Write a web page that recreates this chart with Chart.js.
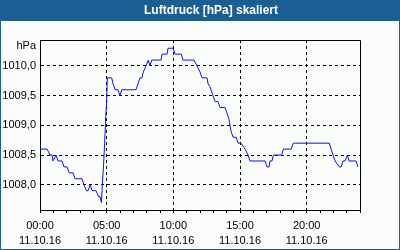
<!DOCTYPE html>
<html lang="de">

<head>
    <script src="https://cdn.jsdelivr.net/npm/chart.js"></script>
    <meta charset="UTF-8">
    <title>Luftdruck</title>
    <style>
        body {
            margin: 0;
            background: #fafcfa;
        }

        .box {
            width: 400px;
            height: 250px;
        }
    </style>
</head>

<body>
    <div class="box"><canvas id="druck"></canvas></div>

    <script>
        const titleText = 'Luftdruck [hPa] skaliert';
        const unitLabel = 'hPa';
        const dateLabel = '11.10.16';

        // Stunden seit 00:00 und Luftdruck in hPa
        const hours = [0, 0.53, 0.75, 0.9, 0.98, 1.2, 1.35, 1.65, 1.8, 2.03, 2.18, 2.48, 2.63, 3.15, 3.3, 3.47, 3.6, 3.77, 3.9, 4.1, 4.2, 4.39, 4.5, 4.61, 4.67, 4.76, 4.85, 4.93, 5.0, 5.05, 5.38, 5.48, 5.63, 5.85, 6.0, 6.13, 7.2, 7.35, 7.5, 7.65, 7.75, 7.95, 8.12, 8.25, 8.38, 9.08, 9.15, 9.53, 9.6, 9.98, 10.13, 10.6, 10.72, 11.55, 11.78, 12.0, 12.15, 12.53, 12.6, 12.75, 12.98, 13.13, 13.35, 13.5, 13.88, 14.03, 14.18, 14.25, 14.33, 14.48, 14.7, 14.85, 15.08, 15.38, 15.45, 15.6, 15.75, 16.88, 17.03, 17.18, 17.25, 17.4, 17.5, 18.13, 18.25, 18.83, 19.0, 21.7, 21.83, 21.98, 22.13, 22.45, 22.58, 22.73, 22.88, 23.05, 23.18, 23.7, 23.85];
        const pressure = [1008.6, 1008.6, 1008.5, 1008.5, 1008.4, 1008.5, 1008.4, 1008.4, 1008.3, 1008.3, 1008.2, 1008.2, 1008.1, 1008.1, 1008.0, 1007.9, 1007.9, 1008.0, 1007.9, 1007.9, 1007.9, 1007.8, 1007.8, 1007.7, 1008.0, 1008.3, 1008.7, 1009.15, 1009.4, 1009.8, 1009.8, 1009.7, 1009.6, 1009.6, 1009.5, 1009.6, 1009.6, 1009.7, 1009.8, 1009.8, 1009.9, 1010.0, 1010.1, 1010.0, 1010.1, 1010.1, 1010.2, 1010.2, 1010.3, 1010.3, 1010.2, 1010.2, 1010.1, 1010.1, 1010.0, 1009.9, 1009.8, 1009.8, 1009.7, 1009.65, 1009.5, 1009.4, 1009.4, 1009.3, 1009.3, 1009.2, 1009.1, 1009.0, 1008.9, 1008.8, 1008.8, 1008.7, 1008.7, 1008.6, 1008.6, 1008.5, 1008.4, 1008.4, 1008.3, 1008.3, 1008.4, 1008.4, 1008.5, 1008.5, 1008.6, 1008.6, 1008.7, 1008.7, 1008.6, 1008.5, 1008.4, 1008.3, 1008.3, 1008.4, 1008.4, 1008.5, 1008.4, 1008.4, 1008.3];

        const yTicks = [1008.0, 1008.5, 1009.0, 1009.5, 1010.0];
        const xTickHours = [0, 5, 10, 15, 20];
        const xTickLabels = ['00:00', '05:00', '10:00', '15:00', '20:00'];

        Chart.defaults.font.family = '"Liberation Sans", Arial, sans-serif';
        Chart.defaults.font.size = 11;
        Chart.defaults.color = '#000';

        const frame = {
            id: 'frame',
            beforeDraw(chart) {
                const { ctx, width, height } = chart;
                ctx.save();
                ctx.fillStyle = '#fafcfa';
                ctx.fillRect(0, 0, width, height);
                ctx.fillStyle = '#1c5e92';
                ctx.fillRect(0, 0, width, 21);
                ctx.strokeStyle = '#1c5e92';
                ctx.lineWidth = 1;
                ctx.strokeRect(0.5, 0.5, width - 1, height - 1);
                ctx.fillStyle = '#fff';
                ctx.font = 'bold 12px "Liberation Sans"';
                ctx.textAlign = 'center';
                ctx.textBaseline = 'middle';
                ctx.fillText(titleText, 211, 11);
                ctx.fillStyle = '#000';
                ctx.font = '11px "Liberation Sans"';
                ctx.textAlign = 'right';
                ctx.fillText(unitLabel, 36, 46);
                ctx.restore();
            },
            afterDraw(chart) {
                const { ctx, chartArea: a } = chart;
                ctx.save();
                ctx.strokeStyle = '#000';
                ctx.lineWidth = 1;
                ctx.beginPath();
                ctx.moveTo(a.left, a.top + 0.5);
                ctx.lineTo(a.right + 0.5, a.top + 0.5);
                ctx.lineTo(a.right + 0.5, a.bottom);
                ctx.stroke();
                ctx.restore();
            }
        };

        new Chart(document.getElementById('druck'), {
            type: 'line',
            data: {
                datasets: [{
                    data: hours.map((h, i) => ({ x: h, y: pressure[i] })),
                    borderColor: '#1010f4',
                    borderWidth: 1,
                    pointRadius: 0,
                    tension: 0,
                    fill: false
                }]
            },
            options: {
                responsive: true,
                maintainAspectRatio: false,
                animation: false,
                layout: {
                    padding: { top: 40, right: 40, left: 0, bottom: 0 }
                },
                plugins: {
                    legend: { display: false },
                    tooltip: { enabled: false }
                },
                scales: {
                    x: {
                        type: 'linear',
                        min: 0,
                        max: 24,
                        afterBuildTicks: s => { s.ticks = Array.from({ length: 25 }, (_, h) => ({ value: h })); },
                        afterFit: s => { s.height = 40; },
                        grid: {
                            color: c => (c.tick && c.tick.value % 5 === 0 && c.tick.value > 0 && c.tick.value < 24) ? '#000' : 'rgba(0,0,0,0)',
                            tickColor: '#000',
                            tickLength: 3
                        },
                        border: { color: '#000', dash: [3, 3] },
                        ticks: {
                            autoSkip: false,
                            maxRotation: 0,
                            minRotation: 0,
                            padding: 5,
                            font: { lineHeight: '15px' },
                            callback: v => {
                                const i = xTickHours.indexOf(v);
                                return i >= 0 ? [xTickLabels[i], dateLabel] : '';
                            }
                        }
                    },
                    y: {
                        min: 1007.574,
                        max: 1010.438,
                        afterBuildTicks: s => { s.ticks = yTicks.map(v => ({ value: v })); },
                        afterFit: s => { s.width = 40; },
                        grid: {
                            color: '#000',
                            drawTicks: false
                        },
                        border: { color: '#000', dash: [3, 3] },
                        ticks: {
                            padding: 4,
                            callback: v => v.toFixed(1).replace('.', ',')
                        }
                    }
                }
            },
            plugins: [frame]
        });
    </script>
</body>

</html>
